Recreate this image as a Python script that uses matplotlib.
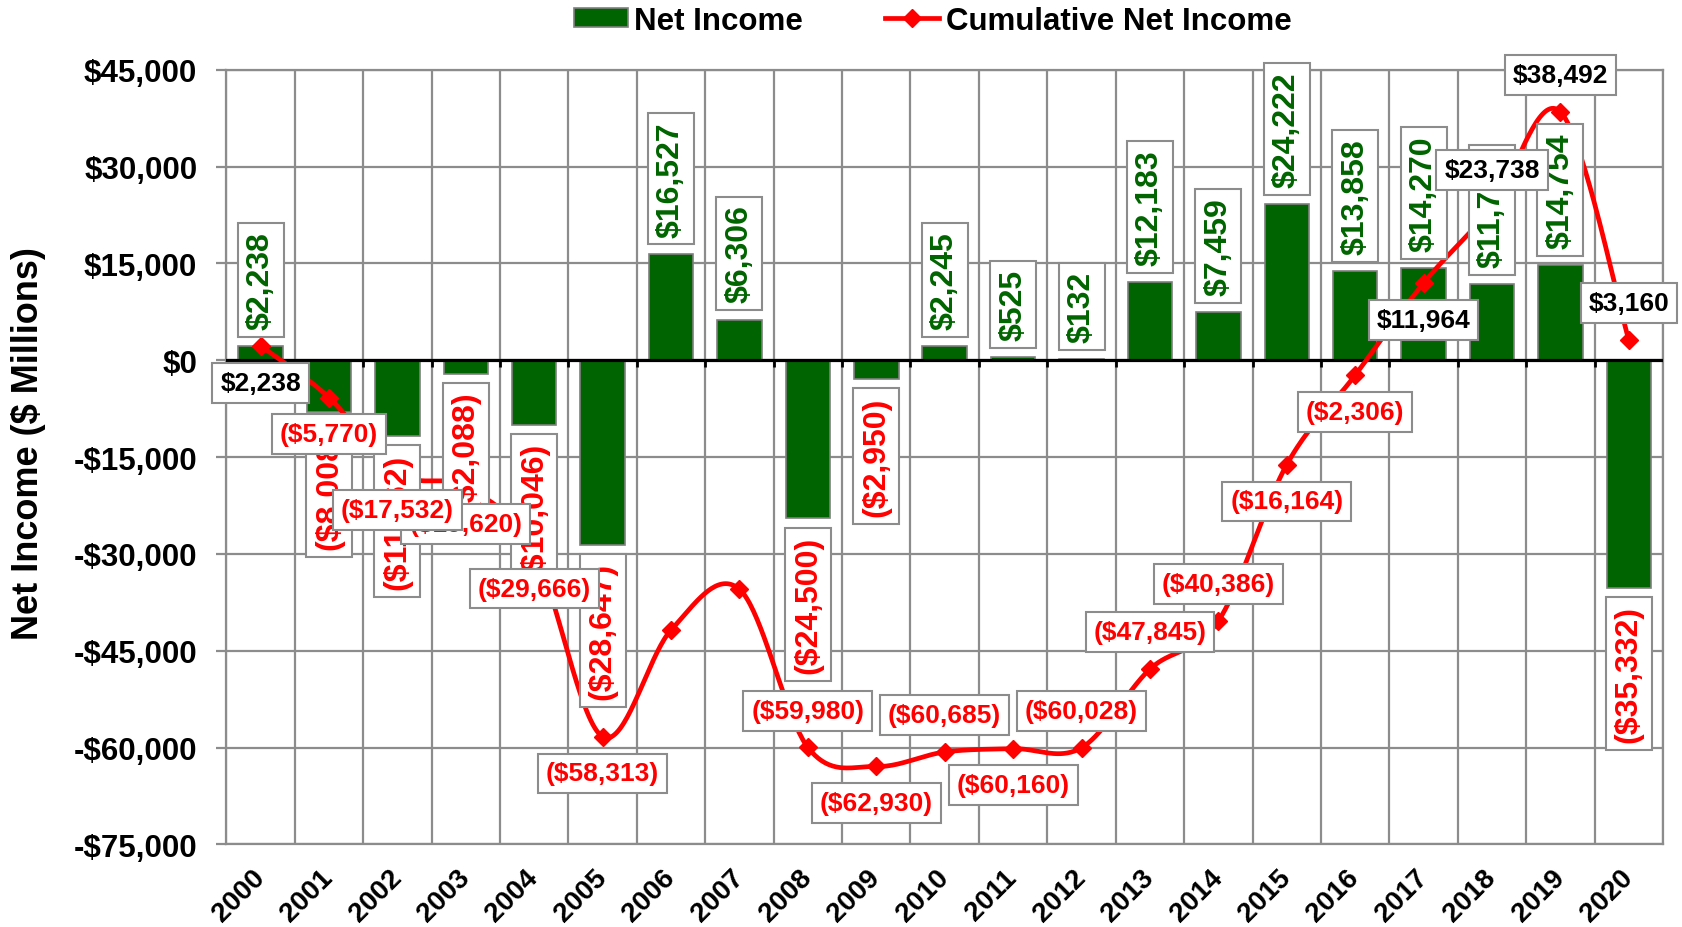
import numpy as np
import matplotlib
matplotlib.use('Agg')
import matplotlib.pyplot as plt
from matplotlib.patches import Patch
from matplotlib.lines import Line2D
from matplotlib.ticker import FuncFormatter, FixedLocator

# ---------------- data ----------------
years = [str(y) for y in range(2000, 2021)]
net_income = [2238, -8008, -11762, -2088, -10046, -28647, 16527, 6306, -24500, -2950,
              2245, 525, 132, 12183, 7459, 24222, 13858, 14270, 11774, 14754, -35332]
cumulative = [2238, -5770, -17532, -19620, -29666, -58313, -41786, -35480, -59980, -62930,
              -60685, -60160, -60028, -47845, -40386, -16164, -2306, 11964, 23738, 38492, 3160]
y_ticks = [-75000, -60000, -45000, -30000, -15000, 0, 15000, 30000, 45000]

# label placement for cumulative labels: +1 above, -1 below, 0 hidden
cum_label_side = [-1, -1, -1, -1, -1, -1, 0, 0, 1, -1, 1, -1, 1, 1, 1, -1, -1, -1, 1, 1, 1]

# ---------------- style ----------------
plt.rcParams['font.family'] = ['Liberation Sans', 'DejaVu Sans']
GREEN = '#006400'
RED = '#FF0000'
GRID = '#8c8c8c'


def money(v):
    return f"${v:,.0f}" if v >= 0 else f"(${-v:,.0f})"


def axis_money(v, pos=None):
    return f"${v:,.0f}" if v >= 0 else f"-${-v:,.0f}"


def excel_smooth(xs, ys, n=40):
    P = np.column_stack([xs, ys]).astype(float)
    out = []
    for i in range(len(P) - 1):
        p0 = P[i - 1] if i > 0 else P[i]
        p1, p2 = P[i], P[i + 1]
        p3 = P[i + 2] if i + 2 < len(P) else P[i + 1]
        c1 = p1 + (p2 - p0) / 6.0
        c2 = p2 - (p3 - p1) / 6.0
        t = np.linspace(0, 1, n)[:, None]
        seg = (1 - t) ** 3 * p1 + 3 * (1 - t) ** 2 * t * c1 + 3 * (1 - t) * t ** 2 * c2 + t ** 3 * p2
        out.append(seg if i == 0 else seg[1:])
    return np.vstack(out)


fig = plt.figure(figsize=(16.83, 9.28), dpi=100)
ax = fig.add_axes([0.13452, 0.08901, 0.8536, 0.8347])

x = np.arange(len(years))
ax.set_xlim(-0.5, len(years) - 0.5)
ax.set_ylim(y_ticks[0], y_ticks[-1])

# grid
ax.set_axisbelow(True)
ax.yaxis.set_major_locator(FixedLocator(y_ticks))
ax.xaxis.set_major_locator(FixedLocator(x))
ax.xaxis.set_minor_locator(FixedLocator(np.arange(-0.5, len(years), 1.0)))
ax.grid(True, axis='y', which='major', color=GRID, lw=1.6)
ax.grid(True, axis='x', which='minor', color=GRID, lw=1.6)
for s in ax.spines.values():
    s.set_color(GRID)
    s.set_linewidth(1.6)

ax.yaxis.set_major_formatter(FuncFormatter(axis_money))
ax.tick_params(axis='y', which='major', length=7, width=1.6, color=GRID, pad=14,
               labelsize=22.5)
for lab in ax.get_yticklabels():
    lab.set_fontweight('bold')
ax.tick_params(axis='x', which='both', length=0)
ax.tick_params(axis='x', which='major', pad=21)
ax.set_xticklabels(years, rotation=45, ha='right', va='center', rotation_mode='anchor',
                   fontsize=20, fontweight='bold')

# bars
ax.bar(x, net_income, width=0.65, color=GREEN, edgecolor='#7f7f7f', linewidth=1.2, zorder=2)

# zero line with tick marks
ax.axhline(0, color='black', lw=2.3, zorder=3)
ax.vlines(np.arange(0.5, len(years) - 0.5, 1.0), 0, -1100, color='black', lw=2.0, zorder=3)

# cumulative smooth line
curve = excel_smooth(x, cumulative)
ax.plot(curve[:, 0], curve[:, 1], color=RED, lw=3.4, zorder=3.5, solid_capstyle='round')
ax.plot(x, cumulative, linestyle='none', marker='D', ms=9.5, color=RED, zorder=3.6)

# bar labels
for i, v in enumerate(net_income):
    pos = v >= 0
    ax.annotate(money(v), xy=(i, v), xytext=(0, 12.3 if pos else -12.3),
                textcoords='offset points', rotation=90, ha='center',
                va='bottom' if pos else 'top', fontsize=23, fontweight='bold',
                color=GREEN if pos else RED, zorder=5,
                bbox=dict(boxstyle='square,pad=0.25', fc='white', ec=GRID, lw=1.5))

# cumulative labels (earlier labels on top)
for i, v in enumerate(cumulative):
    side = cum_label_side[i]
    if side == 0:
        continue
    ax.annotate(money(v), xy=(i, v), xytext=(0, 26.5 * side), textcoords='offset points',
                ha='center', va='center', fontsize=19, fontweight='bold',
                color='black' if v >= 0 else RED, zorder=6 + (len(years) - i) * 0.01,
                bbox=dict(boxstyle='square,pad=0.3', fc='white', ec=GRID, lw=1.5))

# y label
fig.text(28.7 / 1683, 1 - 444 / 928, 'Net Income ($ Millions)', rotation=90,
         ha='center', va='center', fontsize=26, fontweight='bold')

# legend
handles = [Patch(facecolor=GREEN, edgecolor='#7f7f7f', linewidth=1.2),
           Line2D([], [], color=RED, lw=3.4, marker='D', ms=9.5)]
fig.legend(handles, ['Net Income', 'Cumulative Net Income'], loc='center',
           bbox_to_anchor=(0.554, 1 - 21.5 / 928), ncol=2, frameon=False,
           prop={'size': 22.5, 'weight': 'bold'}, handlelength=1.75, handleheight=0.55,
           handletextpad=0.2, columnspacing=2.6, borderaxespad=0)

fig.savefig('out.png', dpi=100)
